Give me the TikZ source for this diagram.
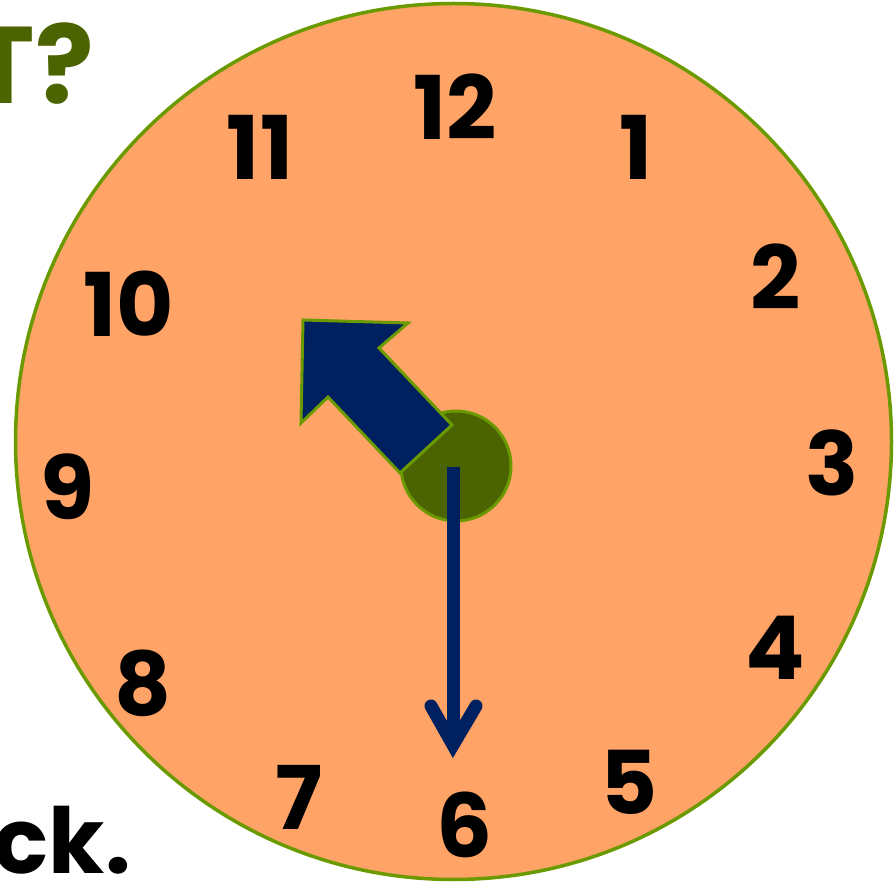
\documentclass[tikz,border=0pt]{standalone}
\usepackage{fontspec}
\setmainfont{Poppins}
\definecolor{faceorange}{RGB}{255,163,102}
\definecolor{rimgreen}{RGB}{106,154,0}
\definecolor{olive}{RGB}{75,99,0}
\definecolor{navy}{RGB}{0,32,96}
\tikzset{
  digit/.style={font=\fontsize{88}{88}\selectfont\bfseries, text=black, inner sep=0pt, anchor=center},
  hourhand/.style={fill=navy, draw=rimgreen, line width=3pt, line join=miter},
  minhand/.style={draw=navy, line width=13pt},
}
\begin{document}
\begin{tikzpicture}[x=1pt,y=-1pt]
\useasboundingbox (0,0) rectangle (895,882);
% clock face
\node[circle, minimum size=876pt, inner sep=0pt, fill=faceorange, draw=rimgreen, line width=3.5pt] (face) at (453.5,441.5) {};
% partial texts
\node[font=\fontsize{109}{109}\selectfont\bfseries, text=olive, inner sep=0pt, anchor=base east] (title) at (94,104) {T?};
\node[font=\fontsize{91}{91}\selectfont\bfseries, text=black, inner sep=0pt, anchor=base east] (tail) at (131,873) {ck.};
% digits
\node[digit] (n12) at (455,107) {12};
\node[digit] (n1) at (636,147) {1};
\node[digit] (n2) at (776,277) {2};
\node[digit] (n3) at (832,463) {3};
\node[digit] (n4) at (775,648) {4};
\node[digit] (n5) at (629,782) {5};
\node[digit] (n6) at (465,825) {6};
\node[digit] (n7) at (299,797) {7};
\node[digit] (n8) at (143,683) {8};
\node[digit] (n9) at (68,487) {9};
\node[digit] (n10) at (129,304) {10};
\node[digit] (n11) at (260,147) {11};
% hub
\node[circle, minimum size=110pt, inner sep=0pt, fill=olive, draw=rimgreen, line width=3pt] (hub) at (456,466) {};
% minute hand
\coordinate (mstart) at (453,467);
\coordinate (mvertex) at (453,745);
\coordinate (marmL) at (431,706);
\coordinate (marmR) at (476,706);
\draw[minhand] (mstart) -- (mvertex);
\draw[minhand, line cap=round, line join=miter] (marmL) -- (mvertex) -- (marmR);
% hour hand
\draw[hourhand] (303,320) -- (408,323) -- (379,348) -- (452,425) -- (400,473) -- (328,397) -- (301,423) -- cycle;
\end{tikzpicture}
\end{document}
